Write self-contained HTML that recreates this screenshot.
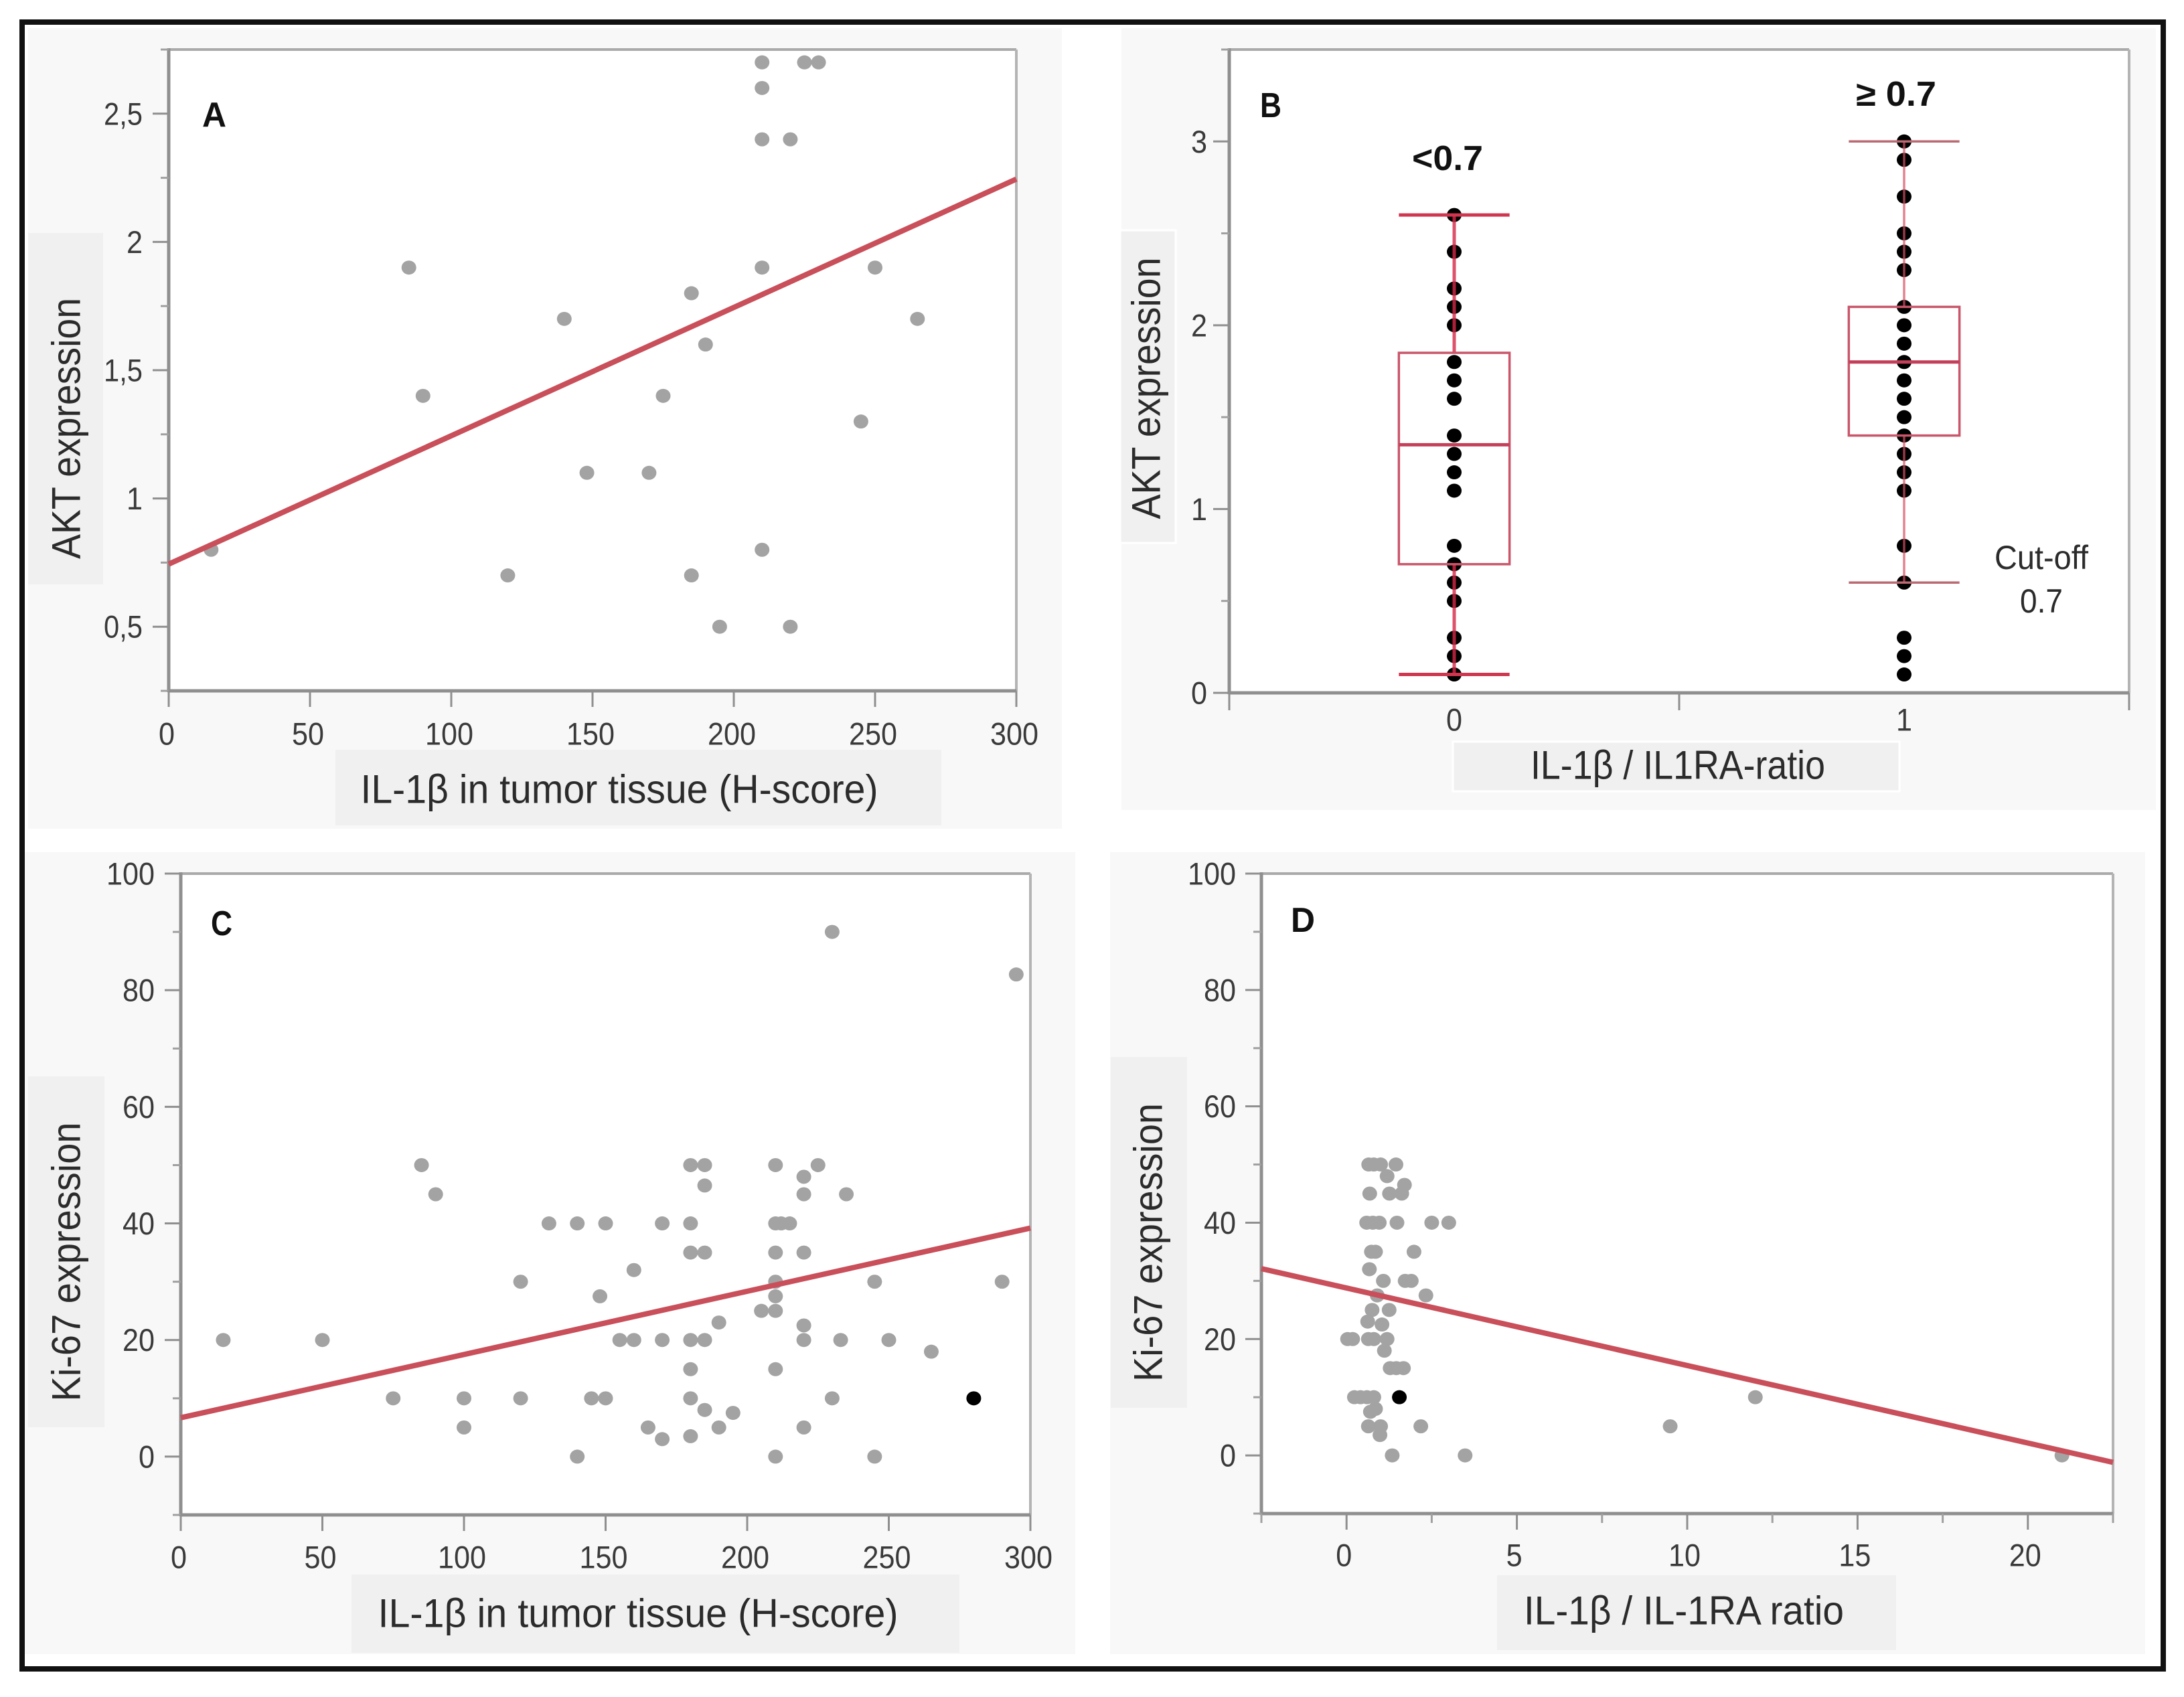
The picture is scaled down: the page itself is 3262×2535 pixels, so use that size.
<!DOCTYPE html>
<html lang="en">
<head>
<meta charset="utf-8">
<title>IL-1β, AKT and Ki-67 expression panels</title>
<style>
html,body{margin:0;padding:0;background:#fff;}
svg{display:block;}
text{font-family:"Liberation Sans",sans-serif;fill:#2b2b2b;dominant-baseline:central;}
.title{font-size:60px;}
.tick{font-size:47px;fill:#3a3a3a;}
.letter{font-size:52px;font-weight:bold;fill:#111;}
</style>
</head>
<body>
<svg id="chart" xmlns="http://www.w3.org/2000/svg" width="3262" height="2535" viewBox="0 0 3262 2535">
  <rect x="0" y="0" width="3262" height="2535" fill="#ffffff"/>
  <rect x="42" y="42" width="1544" height="1196" fill="#f8f8f8"/>
  <rect x="1675" y="42" width="1545" height="1168" fill="#f8f8f8"/>
  <rect x="34" y="1273" width="1572" height="1198" fill="#f8f8f8"/>
  <rect x="1658" y="1273" width="1546" height="1198" fill="#f8f8f8"/>

  <rect x="501" y="1120" width="905" height="113" fill="#f0f0f0"/>
  <rect x="42" y="348" width="112" height="525" fill="#f0f0f0"/>
  <rect x="2170" y="1108" width="667" height="74" fill="#f0f0f0" stroke="#ffffff" stroke-width="3"/>
  <rect x="1673" y="344" width="83" height="467" fill="#f0f0f0" stroke="#ffffff" stroke-width="3"/>
  <rect x="525" y="2352" width="908" height="117" fill="#f0f0f0"/>
  <rect x="42" y="1608" width="114" height="524" fill="#f0f0f0"/>
  <rect x="2236" y="2353" width="596" height="112" fill="#f0f0f0"/>
  <rect x="1659" y="1579" width="114" height="524" fill="#f0f0f0"/>

  <g id="marks"></g>

  <text class="title" x="925" y="1179" text-anchor="middle" textLength="773" lengthAdjust="spacingAndGlyphs">IL-1β in tumor tissue (H-score)</text>
  <text class="title" x="99" y="640" text-anchor="middle" textLength="390" lengthAdjust="spacingAndGlyphs" transform="rotate(-90 99 640)">AKT expression</text>
  <text class="title" x="2506" y="1143" text-anchor="middle" textLength="440" lengthAdjust="spacingAndGlyphs">IL-1β / IL1RA-ratio</text>
  <text class="title" x="1712" y="580" text-anchor="middle" textLength="391" lengthAdjust="spacingAndGlyphs" transform="rotate(-90 1712 580)">AKT expression</text>
  <text class="title" x="953" y="2410" text-anchor="middle" textLength="777" lengthAdjust="spacingAndGlyphs">IL-1β in tumor tissue (H-score)</text>
  <text class="title" x="99" y="1885" text-anchor="middle" textLength="417" lengthAdjust="spacingAndGlyphs" transform="rotate(-90 99 1885)">Ki-67 expression</text>
  <text class="title" x="2515" y="2406" text-anchor="middle" textLength="478" lengthAdjust="spacingAndGlyphs">IL-1β / IL-1RA ratio</text>
  <text class="title" x="1715" y="1856" text-anchor="middle" textLength="416" lengthAdjust="spacingAndGlyphs" transform="rotate(-90 1715 1856)">Ki-67 expression</text>

  <text class="letter" x="320" y="172" text-anchor="middle" textLength="36" lengthAdjust="spacingAndGlyphs">A</text>
  <text class="letter" x="1898" y="158" text-anchor="middle" textLength="32" lengthAdjust="spacingAndGlyphs">B</text>
  <text class="letter" x="331" y="1380" text-anchor="middle" textLength="32" lengthAdjust="spacingAndGlyphs">C</text>
  <text class="letter" x="1946" y="1375" text-anchor="middle" textLength="36" lengthAdjust="spacingAndGlyphs">D</text>
  <text class="letter" x="2162" y="237" text-anchor="middle" textLength="106" lengthAdjust="spacingAndGlyphs">&lt;0.7</text>
  <text class="letter" x="2832" y="141" text-anchor="middle" textLength="120" lengthAdjust="spacingAndGlyphs">≥ 0.7</text>
  <text x="3049" y="833" text-anchor="middle" font-size="50" textLength="140" lengthAdjust="spacingAndGlyphs">Cut-off</text>
  <text x="3049" y="898" text-anchor="middle" font-size="50" textLength="64" lengthAdjust="spacingAndGlyphs">0.7</text>

  <rect x="33" y="33" width="3198" height="2460" fill="none" stroke="#111111" stroke-width="8"/>
</svg>
<script>
// Panel A data
const aX = [15,85,90,120,140,148,170,175,185,185,190,195,210,210,210,210,210,220,220,225,230,245,250,265];
const aY = [0.8,1.9,1.4,0.7,1.7,1.1,1.1,1.4,1.8,0.7,1.6,0.5,2.7,2.6,2.4,1.9,0.8,2.4,0.5,2.7,2.7,1.3,1.9,1.7];
const aFit = [0.744,2.245];
const aXTicks = [0,50,100,150,200,250,300];
const aYTicks = [0.5,1,1.5,2,2.5];
const aYTickLabels = ['0,5','1','1,5','2','2,5'];
const aYMinor = [0.25,0.75,1.25,1.75,2.25,2.75];

// Panel B data
const bGroups = [0,1];
const bLow = [2.6,2.4,2.2,2.1,2.0,1.8,1.7,1.6,1.4,1.3,1.2,1.1,0.8,0.7,0.6,0.5,0.3,0.2,0.1];
const bHigh = [3.0,2.9,2.7,2.5,2.4,2.3,2.1,2.0,1.9,1.8,1.7,1.6,1.5,1.4,1.3,1.2,1.1,0.8,0.6,0.3,0.2,0.1];
const bQ1 = [0.7,1.4];
const bMedian = [1.35,1.8];
const bQ3 = [1.85,2.1];
const bWhiskerLow = [0.1,0.6];
const bWhiskerHigh = [2.6,3.0];
const bXTicks = [-0.5,0.5,1.5];
const bXTickLabels = ['0','1'];
const bYTicks = [0,1,2,3];
const bYMinor = [0.5,1.5,2.5,3.5];

// Panel C data
const cX = [15,50,75,85,90,100,100,120,120,130,140,140,145,150,150,148,155,160,160,165,170,170,170,180,180,180,180,180,180,180,185,185,185,185,185,190,190,195,205,210,210,210,210,210,210,210,210,212,215,220,220,220,220,220,220,225,230,230,233,235,245,245,250,265,290,295];
const cY = [20,20,10,50,45,10,5,30,10,40,40,0,10,10,40,27.5,20,20,32,5,40,20,3,50,40,35,20,15,10,3.5,50,46.5,35,20,8,23,5,7.5,25,50,40,35,30,27.5,25,15,0,40,40,48,45,35,22.5,20,5,50,90,10,20,45,30,0,20,18,30,82.7];
const cHighlightX = [280];
const cHighlightY = [10];
const cFit = [6.67,39.2];
const cXTicks = [0,50,100,150,200,250,300];
const cYTicks = [0,20,40,60,80,100];
const cYMinor = [-10,10,30,50,70,90];

// Panel D data
const dX = [0.65,0.8,1.0,1.45,1.19,1.7,0.68,1.26,1.62,0.59,0.77,0.96,1.48,2.5,3.0,0.73,0.85,1.98,0.67,1.08,1.72,1.9,0.9,2.33,0.75,1.25,0.62,1.04,0.03,0.18,0.64,0.8,1.19,1.11,1.28,1.46,1.67,0.23,0.41,0.6,0.8,12,0.7,0.85,0.64,1.0,2.18,9.5,0.98,1.34,3.48,21];
const dY = [50,50,50,50,48,46.5,45,45,45,40,40,40,40,40,40,35,35,35,32,30,30,30,27.5,27.5,25,25,23,22.5,20,20,20,20,20,18,15,15,15,10,10,10,10,10,7.5,8,5,5,5,5,3.5,0,0,0];
const dHighlightX = [1.55];
const dHighlightY = [10];
const dFit = [32.1,-1.2];
const dXTicks = [0,5,10,15,20];
const dXMinor = [-2.5,2.5,7.5,12.5,17.5,22.5];
const dYTicks = [0,20,40,60,80,100];
const dYMinor = [-10,10,30,50,70,90];

const SVG_NS = 'http://www.w3.org/2000/svg';
const root = document.getElementById('marks');

function scale(d0, d1, r0, r1) {
  return function (v) { return r0 + (v - d0) * (r1 - r0) / (d1 - d0); };
}
function makeLine(x1, y1, x2, y2, color, width) {
  const l = document.createElementNS(SVG_NS, 'line');
  l.setAttribute('x1', x1);
  l.setAttribute('y1', y1);
  l.setAttribute('x2', x2);
  l.setAttribute('y2', y2);
  l.setAttribute('stroke', color);
  l.setAttribute('stroke-width', width);
  root.appendChild(l);
  return l;
}
function makeLabel(x, y, str, anchor) {
  const t = document.createElementNS(SVG_NS, 'text');
  t.setAttribute('x', x);
  t.setAttribute('y', y);
  t.setAttribute('class', 'tick');
  t.setAttribute('text-anchor', anchor);
  t.setAttribute('textLength', str.replace(/,/g, '').length * 24 + (str.indexOf(',') >= 0 ? 10 : 0));
  t.setAttribute('lengthAdjust', 'spacingAndGlyphs');
  t.textContent = str;
  root.appendChild(t);
  return t;
}
function drawFrame(box) {
  const plot = document.createElementNS(SVG_NS, 'rect');
  plot.setAttribute('x', box.l);
  plot.setAttribute('y', box.t);
  plot.setAttribute('width', box.r - box.l);
  plot.setAttribute('height', box.b - box.t);
  plot.setAttribute('fill', '#ffffff');
  
  
  root.appendChild(plot);
}
function drawSpines(box) {
  const top = makeLine(box.l, box.t, box.r, box.t, '#aaaaaa', 4);
  
  
  const right = makeLine(box.r, box.t, box.r, box.b, '#b4b4b4', 4);
  
  
  const left = makeLine(box.l, box.t - 2, box.l, box.b + 2, '#8f8f8f', 5);
  
  
  const bottom = makeLine(box.l, box.b, box.r, box.b, '#8f8f8f', 5);
  
  
}
function drawYTicks(box, y, ticks, labels, minor, labelX) {
  ticks.forEach(function (v, i) {
    const tick = makeLine(box.l - 24, y(v), box.l, y(v), '#8f8f8f', 3);
    
    
    const label = makeLabel(labelX, y(v), labels[i], 'end');
    
    
  });
  minor.forEach(function (v) {
    const tick = makeLine(box.l - 12, y(v), box.l, y(v), '#a0a0a0', 3);
    
    
  });
}
function drawXTicks(box, x, ticks, labels, minor, labelY, labelShift) {
  ticks.forEach(function (v, i) {
    const tick = makeLine(x(v), box.b, x(v), box.b + 24, '#8f8f8f', 3);
    
    
    const label = makeLabel(x(v) + labelShift, labelY, labels[i], 'middle');
    
    
  });
  minor.forEach(function (v) {
    const tick = makeLine(x(v), box.b, x(v), box.b + 14, '#a0a0a0', 3);
    
    
  });
}
function drawDots(xs, ys, x, y, color) {
  xs.forEach(function (v, i) {
    const dot = document.createElementNS(SVG_NS, 'ellipse');
    dot.setAttribute('cx', x(v));
    dot.setAttribute('cy', y(ys[i]));
    dot.setAttribute('rx', 11);
    dot.setAttribute('ry', 10.5);
    dot.setAttribute('fill', color);
    
    
    root.appendChild(dot);
  });
}
function drawFit(xDomain, fit, x, y) {
  const fitLine = makeLine(x(xDomain[0]), y(fit[0]), x(xDomain[1]), y(fit[1]), '#c94f5a', 8);
  
  
}
function fmt(list) { return list.map(String); }

// Panel A
const aBox = {l:252, r:1518, t:74, b:1032};
const aDomX = [0,300];
const aSx = scale(aDomX[0], aDomX[1], aBox.l, aBox.r);
const aSy = scale(0.25, 2.75, aBox.b, aBox.t);
drawFrame(aBox);
drawSpines(aBox);
drawYTicks(aBox, aSy, aYTicks, aYTickLabels, aYMinor, 213);
drawXTicks(aBox, aSx, aXTicks, fmt(aXTicks), [], 1096, -3);
drawDots(aX, aY, aSx, aSy, '#a3a3a3');
drawFit(aDomX, aFit, aSx, aSy);

// Panel B
const bBox = {l:1836, r:3180, t:74, b:1035};
const bSx = scale(-0.5, 1.5, bBox.l, bBox.r);
const bSy = scale(0, 3.5, bBox.b, bBox.t);
const bHalfWidth = 0.123;
const bWhiskerColor = ['rgba(214,40,70,0.8)','rgba(214,80,100,0.7)'];
const bWhiskerWidth = [5,3.5];
const bCapColor = ['#cf3650','#b96a72'];
drawFrame(bBox);
drawSpines(bBox);
drawYTicks(bBox, bSy, bYTicks, fmt(bYTicks), bYMinor, 1803);
bXTicks.forEach(function (v) {
  const tick = makeLine(bSx(v), bBox.b, bSx(v), bBox.b + 26, '#8f8f8f', 3);
  
  
});
bGroups.forEach(function (g, i) {
  const label = makeLabel(bSx(g), 1075, bXTickLabels[i], 'middle');
  
  
});
drawDots(bLow.map(function () { return bGroups[0]; }), bLow, bSx, bSy, '#000000');
drawDots(bHigh.map(function () { return bGroups[1]; }), bHigh, bSx, bSy, '#000000');
bGroups.forEach(function (g, i) {
  const xL = bSx(g - bHalfWidth);
  const xR = bSx(g + bHalfWidth);
  const xC = bSx(g);
  const whiskerTop = makeLine(xC, bSy(bWhiskerHigh[i]), xC, bSy(bQ3[i]), bWhiskerColor[i], bWhiskerWidth[i]);
  
  
  const whiskerBottom = makeLine(xC, bSy(bQ1[i]), xC, bSy(bWhiskerLow[i]), bWhiskerColor[i], bWhiskerWidth[i]);
  
  
  const capTop = makeLine(xL, bSy(bWhiskerHigh[i]), xR, bSy(bWhiskerHigh[i]), bCapColor[i], bWhiskerWidth[i]);
  
  
  const capBottom = makeLine(xL, bSy(bWhiskerLow[i]), xR, bSy(bWhiskerLow[i]), bCapColor[i], bWhiskerWidth[i]);
  
  
  const box = document.createElementNS(SVG_NS, 'rect');
  box.setAttribute('x', xL);
  box.setAttribute('y', bSy(bQ3[i]));
  box.setAttribute('width', xR - xL);
  box.setAttribute('height', bSy(bQ1[i]) - bSy(bQ3[i]));
  box.setAttribute('fill', 'none');
  box.setAttribute('stroke', '#c9566a');
  box.setAttribute('stroke-width', 3.5);
  
  
  root.appendChild(box);
  const median = makeLine(xL, bSy(bMedian[i]), xR, bSy(bMedian[i]), '#c4405a', 5);
  
  
});

// Panel C
const cBox = {l:270, r:1539, t:1305, b:2263};
const cDomX = [0,300];
const cSx = scale(cDomX[0], cDomX[1], cBox.l, cBox.r);
const cSy = scale(-10, 100, cBox.b, cBox.t);
drawFrame(cBox);
drawSpines(cBox);
drawYTicks(cBox, cSy, cYTicks, fmt(cYTicks), cYMinor, 231);
drawXTicks(cBox, cSx, cXTicks, fmt(cXTicks), [], 2326, -3);
drawDots(cX, cY, cSx, cSy, '#a3a3a3');
drawDots(cHighlightX, cHighlightY, cSx, cSy, '#000000');
drawFit(cDomX, cFit, cSx, cSy);

// Panel D
const dBox = {l:1884, r:3156, t:1305, b:2261};
const dDomX = [-2.5,22.5];
const dSx = scale(dDomX[0], dDomX[1], dBox.l, dBox.r);
const dSy = scale(-10, 100, dBox.b, dBox.t);
drawFrame(dBox);
drawSpines(dBox);
drawYTicks(dBox, dSy, dYTicks, fmt(dYTicks), dYMinor, 1846);
drawXTicks(dBox, dSx, dXTicks, fmt(dXTicks), dXMinor, 2323, -4);
drawDots(dX, dY, dSx, dSy, '#a3a3a3');
drawDots(dHighlightX, dHighlightY, dSx, dSy, '#000000');
drawFit(dDomX, dFit, dSx, dSy);
</script>
</body>
</html>
